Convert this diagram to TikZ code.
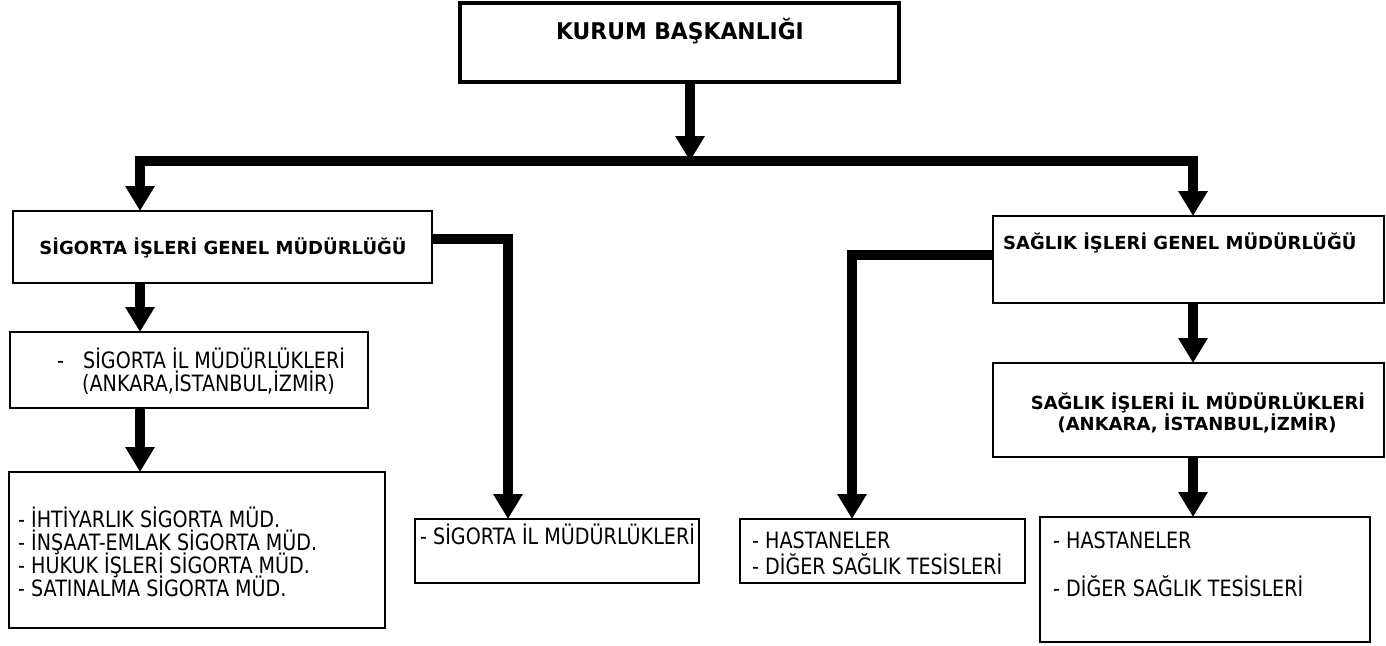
\documentclass[tikz,border=0pt]{standalone}
\usepackage{fontspec}
\setmainfont{DejaVu Sans}
\newfontfamily\itemfont[FakeStretch=0.85]{DejaVu Sans}
\newfontfamily\headfont[FakeStretch=0.95]{DejaVu Sans}
\usetikzlibrary{arrows.meta}
\tikzset{
  box/.style={draw, line width=2pt, rectangle, inner sep=0pt, outer sep=0pt, anchor=north west},
  topbox/.style={box, line width=4pt},
  hd/.style={font=\bfseries\fontsize{18}{21}\selectfont, inner sep=0pt},
  tophd/.style={font=\headfont\bfseries\fontsize{23}{26}\selectfont, inner sep=0pt},
  itm/.style={font=\itemfont\fontsize{22.5}{26}\selectfont, inner sep=0pt, anchor=base west},
  conn/.style={line width=10pt, line join=miter, -{Triangle[width=28pt,length=25pt]}},
}
\begin{document}
\begin{tikzpicture}[x=1pt, y=-1pt]
\useasboundingbox (0,0) rectangle (1386,645);
% boxes
\node[topbox, minimum width=439pt, minimum height=79pt] (T) at (460,3) {};
\node[box, minimum width=419pt, minimum height=72pt] (S) at (13,211) {};
\node[box, minimum width=391pt, minimum height=87pt] (SG) at (993,216) {};
\node[box, minimum width=358pt, minimum height=76pt] (SIL) at (10,332) {};
\node[box, minimum width=376pt, minimum height=156pt] (L4) at (9,472) {};
\node[box, minimum width=284pt, minimum height=64pt] (SGL) at (415,519) {};
\node[box, minimum width=285pt, minimum height=64pt] (HL) at (740,519) {};
\node[box, minimum width=391pt, minimum height=94pt] (SI) at (993,363) {};
\node[box, minimum width=330pt, minimum height=125pt] (SB) at (1040,517) {};
% texts
\node[tophd, anchor=base] (tT) at (680,39) {KURUM BAŞKANLIĞI};
\node[hd, anchor=base] (tS) at (223,254) {SİGORTA İŞLERİ GENEL MÜDÜRLÜĞÜ};
\node[hd, anchor=base west] (tSG) at (1003,249) {SAĞLIK İŞLERİ GENEL MÜDÜRLÜĞÜ};
\node[hd, anchor=base] (tSI1) at (1198,409) {SAĞLIK İŞLERİ İL MÜDÜRLÜKLERİ};
\node[hd, anchor=base] (tSI2) at (1197,430) {(ANKARA, İSTANBUL,İZMİR)};
\node[itm] (tSIL0) at (57,368) {-};
\node[itm] (tSIL1) at (83,368) {SİGORTA İL MÜDÜRLÜKLERİ};
\node[itm] (tSIL2) at (82,391) {(ANKARA,İSTANBUL,İZMİR)};
\node[itm] (tL41) at (18,527) {- İHTİYARLIK SİGORTA MÜD.};
\node[itm] (tL42) at (18,550) {- İNŞAAT-EMLAK SİGORTA MÜD.};
\node[itm] (tL43) at (18,573) {- HUKUK İŞLERİ SİGORTA MÜD.};
\node[itm] (tL44) at (18,596) {- SATINALMA SİGORTA MÜD.};
\node[itm] (tSGL) at (420,544) {- SİGORTA İL MÜDÜRLÜKLERİ};
\node[itm] (tHL1) at (752,548) {- HASTANELER};
\node[itm] (tHL2) at (752,574) {- DİĞER SAĞLIK TESİSLERİ};
\node[itm] (tSB1) at (1053,548) {- HASTANELER};
\node[itm] (tSB2) at (1053,596) {- DİĞER SAĞLIK TESİSLERİ};
% connectors
\coordinate (J) at (690,161);
\coordinate (BL) at (140,161);
\coordinate (BR) at (1193,161);
\coordinate (C1) at (508,239);
\coordinate (C2) at (852,255);
\draw[conn] (T.south -| J) -- (J);
\draw[conn] (J) -- (BL) -- (BL |- S.north);
\draw[conn] (J) -- (BR) -- (BR |- SG.north);
\draw[conn] (S.south -| BL) -- (SIL.north -| BL);
\draw[conn] (SIL.south -| BL) -- (L4.north -| BL);
\draw[conn] (S.east |- C1) -- (C1) -- (SGL.north -| C1);
\draw[conn] (SG.west |- C2) -- (C2) -- (HL.north -| C2);
\draw[conn] (SG.south -| BR) -- (SI.north -| BR);
\draw[conn] (SI.south -| BR) -- (SB.north -| BR);
\end{tikzpicture}
\end{document}
